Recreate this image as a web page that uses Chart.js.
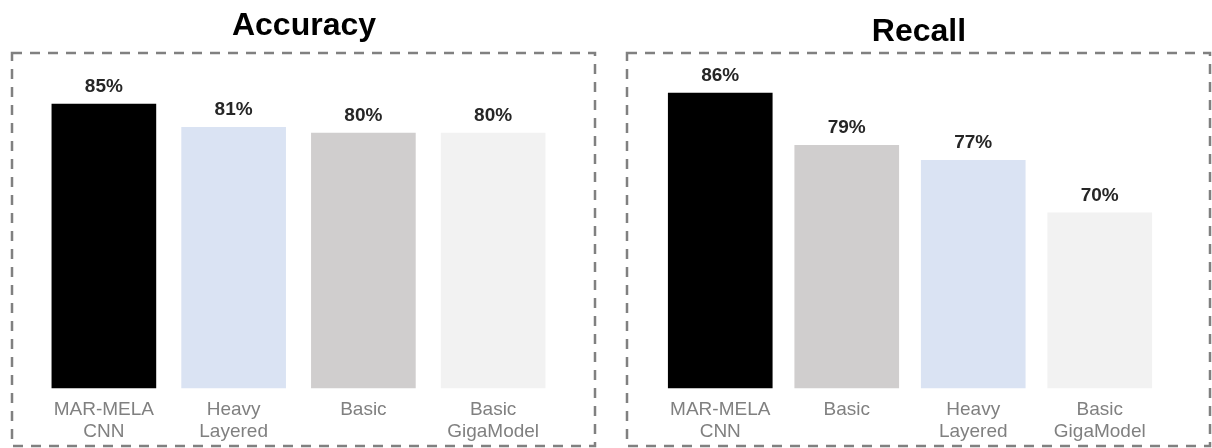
<!DOCTYPE html>
<html>
<head>
<meta charset="utf-8">
<script src="https://cdn.jsdelivr.net/npm/chart.js@4.4.1/dist/chart.umd.min.js"></script>
<style>
    body { margin: 0; background: #ffffff; }
    #wrap { position: relative; width: 1212px; height: 448px; }
    canvas { position: absolute; top: 0; }
    #accuracyChart { left: 0; }
    #recallChart { left: 606px; }
</style>
</head>
<body>
<div id="wrap">
    <canvas id="accuracyChart" width="606" height="448"></canvas>
    <canvas id="recallChart" width="606" height="448"></canvas>
</div>
<script>
// accuracy panel
var accuracyModels = ['MAR-MELA CNN', 'Heavy Layered', 'Basic', 'Basic GigaModel'];
var accuracyValues = [85, 81, 80, 80];

// recall panel
var recallModels = ['MAR-MELA CNN', 'Basic', 'Heavy Layered', 'Basic GigaModel'];
var recallValues = [86, 79, 77, 70];

var modelColors = {
    'MAR-MELA CNN': '#000000',
    'Heavy Layered': '#dae3f3',
    'Basic': '#d0cece',
    'Basic GigaModel': '#f2f2f2'
};

var FONT = "'Liberation Sans', Arial, sans-serif";

// dashed frame, panel title and the % labels over each bar
var panelFrame = {
    id: 'panelFrame',
    beforeDraw: function(chart, args, opts) {
        var ctx = chart.ctx;
        ctx.save();
        ctx.strokeStyle = '#808080';
        ctx.lineWidth = 2.5;
        ctx.setLineDash([10, 8]);
        ctx.strokeRect(opts.box[0], opts.box[1], opts.box[2], opts.box[3]);
        ctx.restore();

        ctx.save();
        ctx.fillStyle = '#000000';
        ctx.font = 'bold 32px ' + FONT;
        ctx.textAlign = 'center';
        ctx.textBaseline = 'alphabetic';
        ctx.fillText(opts.title, opts.titleX, opts.titleY);
        ctx.restore();
    },
    afterDatasetsDraw: function(chart) {
        var ctx = chart.ctx;
        var meta = chart.getDatasetMeta(0);
        var data = chart.data.datasets[0].data;
        ctx.save();
        ctx.fillStyle = '#262626';
        ctx.font = 'bold 19px ' + FONT;
        ctx.textAlign = 'center';
        ctx.textBaseline = 'alphabetic';
        meta.data.forEach(function(bar, i) {
            ctx.fillText(data[i] + '%', bar.x, bar.y - 12);
        });
        ctx.restore();
    }
};

function makePanel(canvasId, models, values, yMin, yMax, frame, pad) {
    var ctx = document.getElementById(canvasId).getContext('2d');
    return new Chart(ctx, {
        type: 'bar',
        data: {
            labels: models.map(function(m) { return m.split(' '); }),
            datasets: [{
                data: values,
                backgroundColor: models.map(function(m) { return modelColors[m]; }),
                borderWidth: 0,
                barThickness: 104
            }]
        },
        options: {
            responsive: false,
            animation: false,
            layout: { padding: pad },
            plugins: {
                legend: { display: false },
                tooltip: { enabled: false },
                panelFrame: frame
            },
            scales: {
                x: {
                    grid: { display: false, drawTicks: false },
                    border: { display: false },
                    ticks: {
                        color: '#808080',
                        padding: 11,
                        maxRotation: 0,
                        autoSkip: false,
                        font: { family: FONT, size: 19, lineHeight: 1.15 }
                    }
                },
                y: {
                    display: false,
                    min: yMin,
                    max: yMax
                }
            }
        },
        plugins: [panelFrame]
    });
}

var accuracyChart = makePanel('accuracyChart', accuracyModels, accuracyValues, 36, 92.6,
    { title: 'Accuracy', titleX: 304, titleY: 35, box: [12, 53, 583, 393] },
    { top: 60, left: 39, right: 48, bottom: -6 });

var recallChart = makePanel('recallChart', recallModels, recallValues, 46.6, 90.4,
    { title: 'Recall', titleX: 313, titleY: 40.5, box: [21, 53, 583, 393] },
    { top: 60, left: 51, right: 49, bottom: -6 });
</script>
</body>
</html>
